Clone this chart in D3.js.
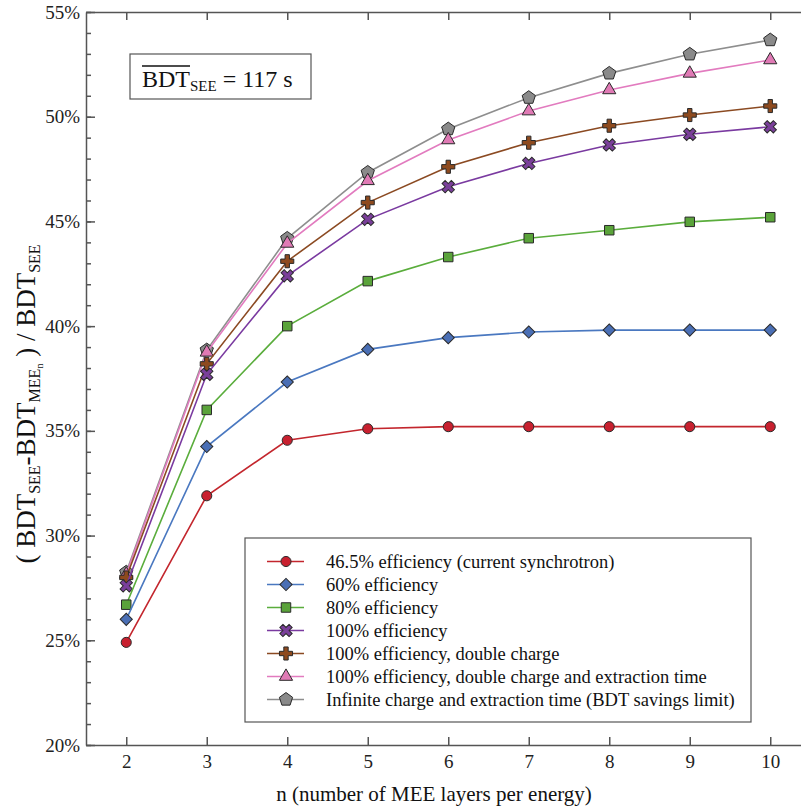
<!DOCTYPE html>
<html>
<head>
<meta charset="utf-8">
<script src="https://cdn.jsdelivr.net/npm/d3@7"></script>
<style>
  body { margin: 0; background: #fff; }
  svg text { font-family: "Liberation Serif", "Times New Roman", "DejaVu Serif", serif; }
</style>
</head>
<body>
<div id="chart"></div>
<script>
// data (percent)
const nValues = [2, 3, 4, 5, 6, 7, 8, 9, 10];
const eff465 = [24.9, 31.9, 34.55, 35.1, 35.2, 35.2, 35.2, 35.2, 35.2];
const eff60 = [26.0, 34.25, 37.33, 38.89, 39.45, 39.72, 39.81, 39.81, 39.81];
const eff80 = [26.7, 36.0, 40.0, 42.15, 43.3, 44.2, 44.58, 44.98, 45.2];
const eff100 = [27.6, 37.7, 42.4, 45.1, 46.66, 47.77, 48.65, 49.16, 49.52];
const eff100Double = [28.0, 38.2, 43.1, 45.9, 47.61, 48.76, 49.57, 50.08, 50.51];
const eff100DoubleExt = [28.15, 38.75, 43.95, 46.94, 48.89, 50.27, 51.28, 52.07, 52.71];
const infiniteLimit = [28.25, 38.86, 44.19, 47.34, 49.41, 50.91, 52.07, 52.98, 53.66];

const seriesNames = [
  "46.5% efficiency (current synchrotron)",
  "60% efficiency",
  "80% efficiency",
  "100% efficiency",
  "100% efficiency, double charge",
  "100% efficiency, double charge and extraction time",
  "Infinite charge and extraction time (BDT savings limit)"
];
const seriesValues = [eff465, eff60, eff80, eff100, eff100Double, eff100DoubleExt, infiniteLimit];
const yTicks = [20, 25, 30, 35, 40, 45, 50, 55];

const lineColours = ["#c3262d", "#4a78c0", "#5aad3c", "#7a3aa0", "#8b4a22", "#e27bbf", "#8e8e8e"];
const fillColours = ["#c8202f", "#4a6fb5", "#5aa33a", "#7a3f9a", "#8e4a1e", "#e07ab5", "#8a8a8a"];

// pentagon isn't in d3's symbol set
const symbolPentagon = {
  draw(ctx, size) {
    const r = Math.sqrt(size / (2.5 * Math.sin(2 * Math.PI / 5)));
    for (let i = 0; i < 5; i++) {
      const a = -Math.PI / 2 + i * 2 * Math.PI / 5;
      if (i === 0) ctx.moveTo(r * Math.cos(a), r * Math.sin(a));
      else ctx.lineTo(r * Math.cos(a), r * Math.sin(a));
    }
    ctx.closePath();
  }
};
const markers = [
  { type: d3.symbolCircle, size: 80, rot: 0 },
  { type: d3.symbolSquare, size: 74, rot: 45 },
  { type: d3.symbolSquare, size: 90, rot: 0 },
  { type: d3.symbolCross, size: 95, rot: 45 },
  { type: d3.symbolCross, size: 95, rot: 0 },
  { type: d3.symbolTriangle, size: 75, rot: 0 },
  { type: symbolPentagon, size: 115, rot: 0 }
];

const W = 801, H = 808;
const serif = "'Liberation Serif', 'Times New Roman', serif";
const svg = d3.select("#chart").append("svg")
  .attr("width", W).attr("height", H);

const x = d3.scaleLinear().domain([1.5, 10.5]).range([86, 810.5]);
const y = d3.scaleLinear().domain([20, 55]).range([745, 12]);
const axisColour = "#555";

// minor ticks on left axis
svg.append("g")
  .attr("transform", `translate(${x(1.5)},0)`)
  .call(d3.axisLeft(y).tickValues(d3.range(20, 56, 1)).tickSize(-5).tickFormat(""))
  .call(g => g.select(".domain").remove());

// left axis
svg.append("g")
  .attr("class", "yaxis")
  .attr("transform", `translate(${x(1.5)},0)`)
  .call(d3.axisLeft(y).tickValues(yTicks).tickSize(-9).tickSizeOuter(0).tickPadding(6)
    .tickFormat(d => d + "%"));

// bottom axis
svg.append("g")
  .attr("class", "xaxis")
  .attr("transform", `translate(0,${y(20)})`)
  .call(d3.axisBottom(x).tickValues(nValues).tickSize(-8).tickSizeOuter(0).tickPadding(10)
    .tickFormat(d3.format("d")));

// top axis, ticks only
svg.append("g")
  .attr("transform", `translate(0,${y(55)})`)
  .call(d3.axisTop(x).tickValues(nValues).tickSize(-8).tickSizeOuter(0).tickFormat(""));

svg.selectAll("g").attr("font-family", serif);
svg.selectAll(".domain, .tick line")
  .attr("stroke", axisColour)
  .attr("stroke-width", 1.5);
svg.selectAll(".tick text")
  .attr("fill", "#222")
  .attr("font-size", 19);

// lines + markers, last series drawn first (it sits underneath)
const line = d3.line()
  .x((d, i) => x(nValues[i]))
  .y(d => y(d));

const plot = svg.append("g");
d3.range(seriesValues.length).reverse().forEach(s => {
  plot.append("path")
    .datum(seriesValues[s])
    .attr("fill", "none")
    .attr("stroke", lineColours[s])
    .attr("stroke-width", 1.6)
    .attr("d", line);
  const m = markers[s];
  plot.selectAll(".m" + s)
    .data(seriesValues[s])
    .enter()
    .append("path")
      .attr("transform", (d, i) => `translate(${x(nValues[i])},${y(d)}) rotate(${m.rot})`)
      .attr("d", d3.symbol().type(m.type).size(m.size))
      .attr("fill", fillColours[s])
      .attr("stroke", "#2a2a2a")
      .attr("stroke-width", 1);
});

// annotation box
const ann = svg.append("g");
ann.append("rect")
  .attr("x", 130).attr("y", 54)
  .attr("width", 181).attr("height", 45)
  .attr("fill", "#fff")
  .attr("stroke", axisColour)
  .attr("stroke-width", 1.2);
const annText = ann.append("text")
  .attr("x", 142).attr("y", 87)
  .attr("fill", "#111")
  .attr("font-family", serif)
  .attr("font-size", 24);
const bdt = annText.append("tspan").text("BDT");
annText.append("tspan").attr("dy", 4).attr("font-size", 15).text("SEE");
annText.append("tspan").attr("dy", -4).text(" = 117 s");
const bdtLen = bdt.node().getComputedTextLength();
ann.append("line")
  .attr("x1", 142).attr("x2", 142 + bdtLen)
  .attr("y1", 66).attr("y2", 66)
  .attr("stroke", "#111")
  .attr("stroke-width", 1.3);

// legend
const legend = svg.append("g");
legend.append("rect")
  .attr("x", 245).attr("y", 538)
  .attr("width", 506).attr("height", 184)
  .attr("fill", "#fff")
  .attr("stroke", axisColour)
  .attr("stroke-width", 1.2);
const items = legend.selectAll(".legend-item")
  .data(seriesNames)
  .enter()
  .append("g")
    .attr("transform", (d, i) => `translate(0,${561.5 + i * 23})`);
items.append("line")
  .attr("x1", 267).attr("x2", 304)
  .attr("stroke", (d, i) => lineColours[i])
  .attr("stroke-width", 1.6);
items.append("path")
  .attr("transform", (d, i) => `translate(286,0) rotate(${markers[i].rot})`)
  .attr("d", (d, i) => d3.symbol().type(markers[i].type).size(markers[i].size)())
  .attr("fill", (d, i) => fillColours[i])
  .attr("stroke", "#2a2a2a")
  .attr("stroke-width", 1);
items.append("text")
  .attr("x", 326)
  .attr("y", 6)
  .attr("fill", "#111")
  .attr("font-family", serif)
  .attr("font-size", 18.5)
  .text(d => d);

// axis titles
svg.append("text")
  .attr("x", 434).attr("y", 801)
  .attr("text-anchor", "middle")
  .attr("fill", "#111")
  .attr("font-family", serif)
  .attr("font-size", 21)
  .text("n (number of MEE layers per energy)");

const yTitle = svg.append("text")
  .attr("transform", "translate(35,404) rotate(-90)")
  .attr("text-anchor", "middle")
  .attr("fill", "#111")
  .attr("font-family", serif)
  .attr("font-size", 27);
yTitle.append("tspan").text("( BDT");
yTitle.append("tspan").attr("dy", 5).attr("font-size", 16).text("SEE");
yTitle.append("tspan").attr("dy", -5).text("-BDT");
yTitle.append("tspan").attr("dy", 5).attr("font-size", 16).text("MEE");
yTitle.append("tspan").attr("dy", 3).attr("font-size", 10).text("n");
yTitle.append("tspan").attr("dy", -8).text(" ) / BDT");
yTitle.append("tspan").attr("dy", 5).attr("font-size", 16).text("SEE");
</script>
</body>
</html>
